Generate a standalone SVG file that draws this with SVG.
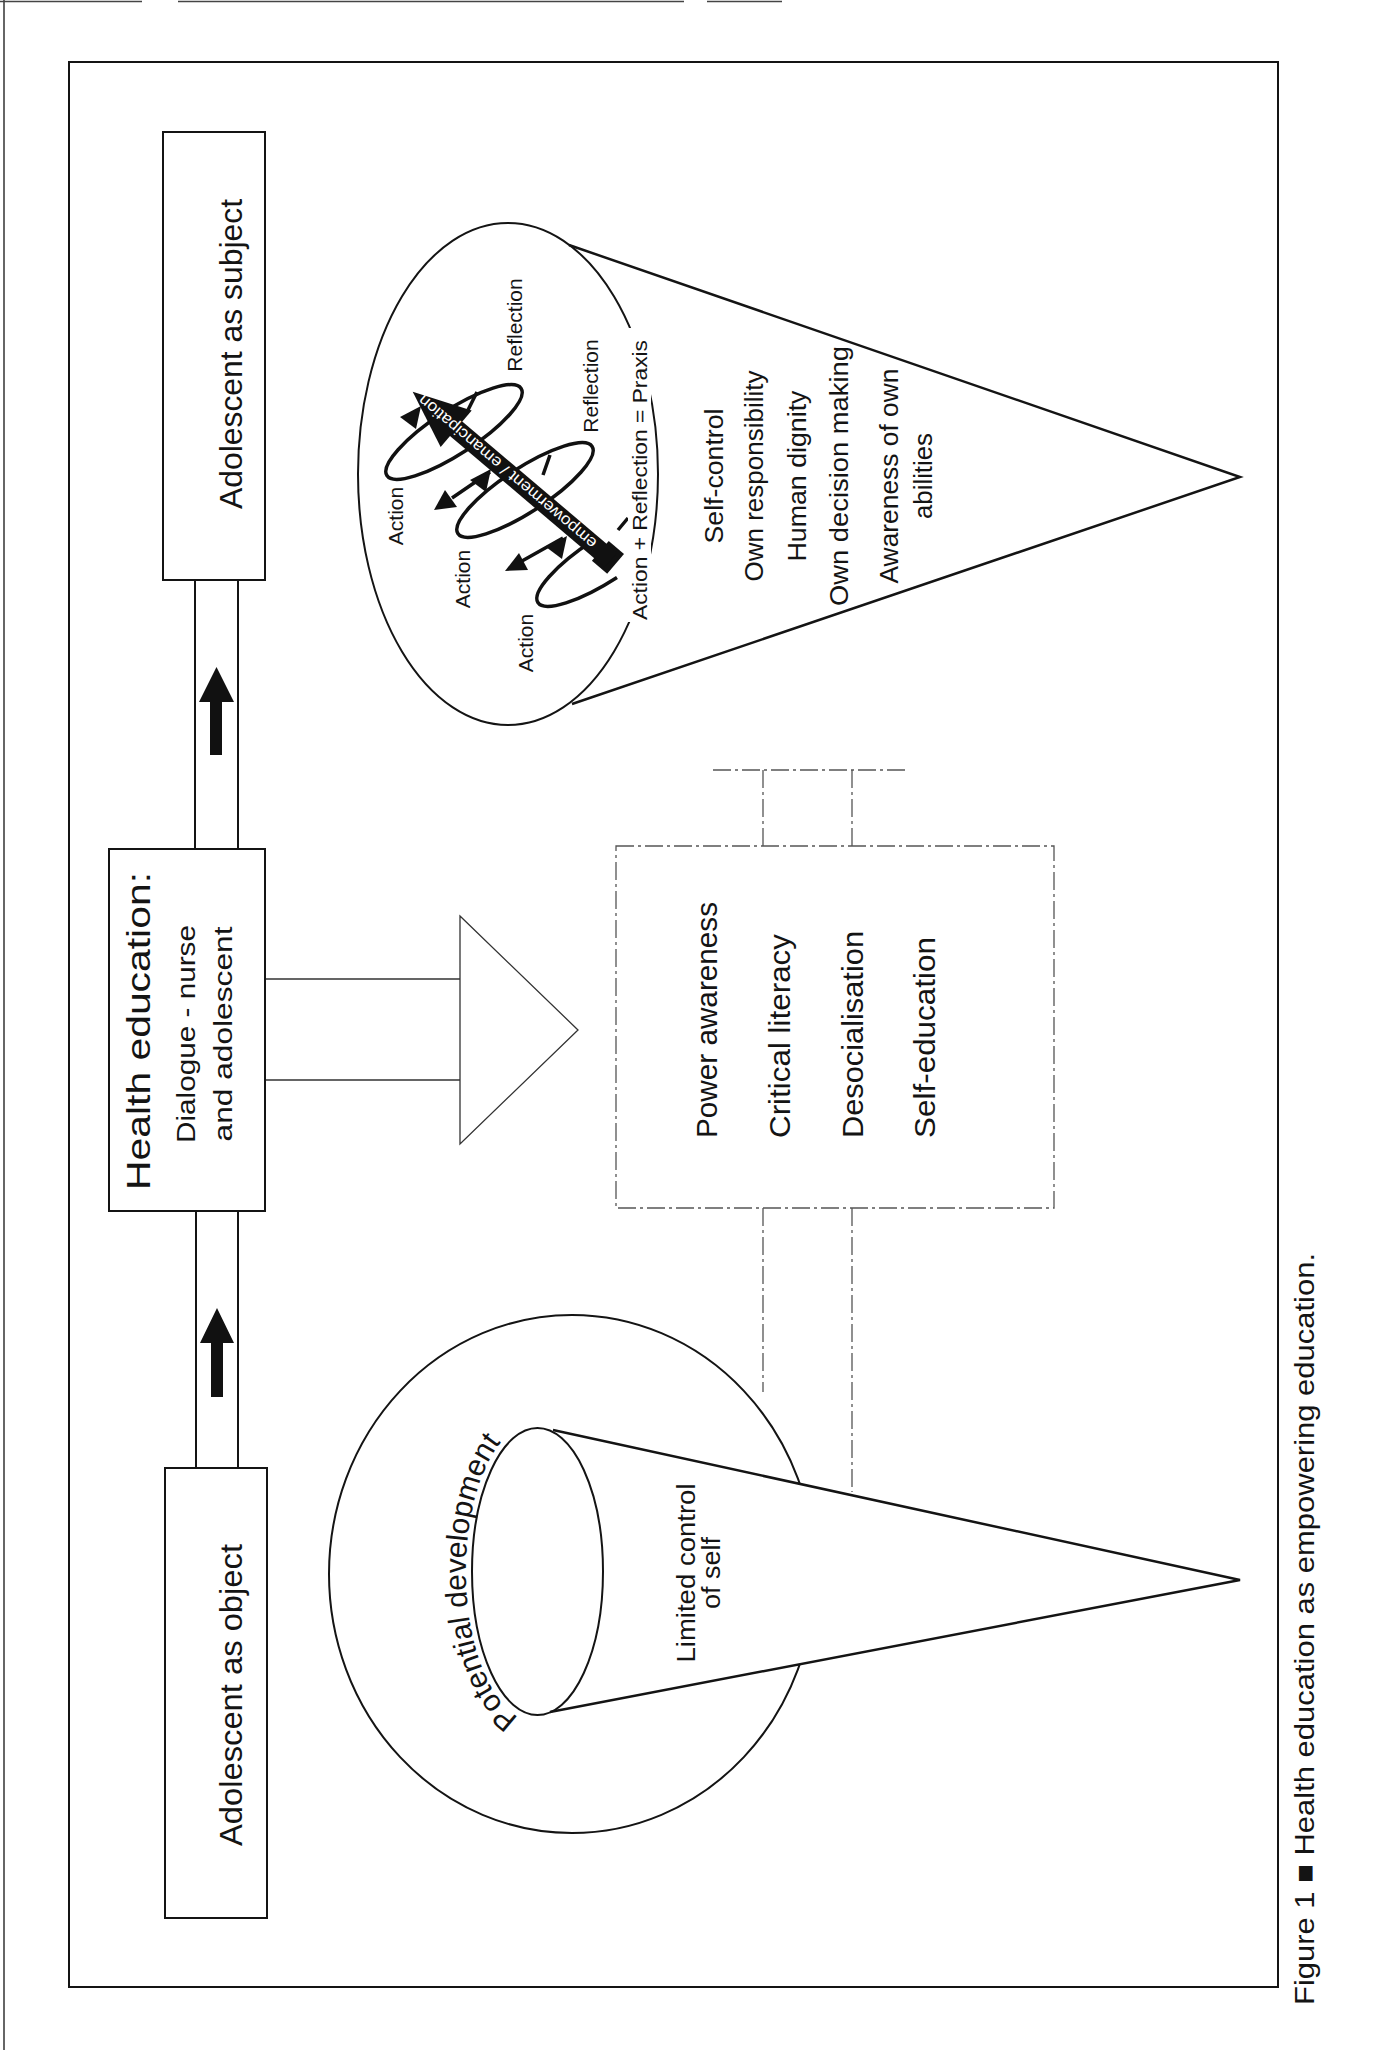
<svg xmlns="http://www.w3.org/2000/svg" width="1394" height="2050" viewBox="0 0 1394 2050">
<style>
.t{font-family:"Liberation Sans",Arial,sans-serif;fill:#141414}
.box{fill:#fff;stroke:#141414;stroke-width:2}
.ln{fill:none;stroke:#141414;stroke-width:2}
.cone{fill:none;stroke:#141414;stroke-width:2.5}
.thin{fill:none;stroke:#333;stroke-width:1.3}
.dash{fill:none;stroke:#555;stroke-width:1.3;stroke-dasharray:18 4 3 4}
.blk{fill:#111;stroke:none}
.loop{fill:none;stroke:#111;stroke-width:3.5}
</style>
<rect width="1394" height="2050" fill="#fff"/>
<g id="page">
<line x1="4" y1="0" x2="4" y2="2050" stroke="#333" stroke-width="1.5"/>
<path d="M0 1.5H142M178 1.5H684M707 1.5H782" stroke="#444" stroke-width="1.5"/>
<rect x="69" y="62" width="1209" height="1925" fill="none" stroke="#141414" stroke-width="2"/>
</g>
<g id="connectors">
<path class="ln" d="M195 580V849M238 580V849M196 1211V1468M238 1211V1468"/>
<path class="blk" d="M216.5 667L234 702H222V755H210V702H199Z"/>
<path class="blk" d="M217 1308L234 1343H223V1397H211V1343H200Z"/>
<path class="thin" d="M265 979H460M265 1080H460"/>
<path class="thin" d="M460 916L578 1030L460 1144Z"/>
<path class="dash" d="M713 770H907M763 770V846M852 770V846M763 1208V1392M852 1208V1492"/>
</g>
<g id="subject-box">
<rect class="box" x="163" y="132" width="102" height="448"/>
<text class="t" transform="translate(242 354) rotate(-90)" text-anchor="middle" font-size="31" textLength="310" lengthAdjust="spacingAndGlyphs">Adolescent as subject</text>
</g>
<g id="health-education-box">
<rect class="box" x="109" y="849" width="156" height="362"/>
<text class="t" transform="translate(150 1031) rotate(-90)" text-anchor="middle" font-size="34" textLength="318" lengthAdjust="spacingAndGlyphs">Health education:</text>
<text class="t" transform="translate(195 1034) rotate(-90)" text-anchor="middle" font-size="26" textLength="218" lengthAdjust="spacingAndGlyphs">Dialogue - nurse</text>
<text class="t" transform="translate(232 1034) rotate(-90)" text-anchor="middle" font-size="26" textLength="215" lengthAdjust="spacingAndGlyphs">and adolescent</text>
</g>
<g id="object-box">
<rect class="box" x="165" y="1468" width="102" height="450"/>
<text class="t" transform="translate(242 1695) rotate(-90)" text-anchor="middle" font-size="31" textLength="302" lengthAdjust="spacingAndGlyphs">Adolescent as object</text>
</g>
<g id="strategies-box">
<rect class="dash" x="616" y="846" width="438" height="362"/>
<text class="t" transform="translate(717 1138) rotate(-90)" font-size="29" textLength="236" lengthAdjust="spacingAndGlyphs">Power awareness</text>
<text class="t" transform="translate(790 1138) rotate(-90)" font-size="29" textLength="204" lengthAdjust="spacingAndGlyphs">Critical literacy</text>
<text class="t" transform="translate(863 1138) rotate(-90)" font-size="29" textLength="207" lengthAdjust="spacingAndGlyphs">Desocialisation</text>
<text class="t" transform="translate(935 1138) rotate(-90)" font-size="29" textLength="201" lengthAdjust="spacingAndGlyphs">Self-education</text>
</g>
<g id="object-cone">
<ellipse class="ln" cx="572" cy="1574" rx="243" ry="259"/>
<path d="M553 1430L1240 1580L550 1712A65.5 143.5 0 0 0 553 1430Z" fill="#fff"/>
<path class="cone" d="M553 1430L1240 1580L550 1712"/>
<ellipse class="ln" cx="537.5" cy="1571.5" rx="65.5" ry="143.5"/>
<path id="pd" d="M519 1717A71 150 0 0 1 533 1422" fill="none"/>
<text class="t" font-size="30"><textPath href="#pd">Potential development</textPath></text>
<text class="t" transform="translate(695 1573) rotate(-90)" text-anchor="middle" font-size="25" textLength="179" lengthAdjust="spacingAndGlyphs">Limited control</text>
<text class="t" transform="translate(720 1573) rotate(-90)" text-anchor="middle" font-size="25" textLength="72" lengthAdjust="spacingAndGlyphs">of self</text>
</g>
<g id="subject-cone">
<ellipse class="ln" cx="508" cy="474" rx="150" ry="251"/>
<path class="cone" d="M569 245L1240 477L572 704"/>
<g id="spiral">
<ellipse class="loop" cx="454" cy="432" rx="80" ry="22" transform="rotate(-33 454 432)"/>
<ellipse class="loop" cx="525" cy="490" rx="80" ry="22" transform="rotate(-33 525 490)"/>
<path class="loop" d="M0 -22A80 22 0 0 0 0 22" transform="translate(605 559) rotate(-33)"/>
<path class="loop" stroke-width="3" d="M468 410L477 392M543 475L550 455M618 530L628 518"/>
<path class="blk" d="M421 406L416 429L400 417Z"/>
<path class="blk" d="M491 469L486 492L470 480Z"/>
<path class="blk" d="M567 536L562 559L546 547Z"/>
<path class="loop" d="M490 472L452 498M563 538L522 561"/>
<path class="blk" d="M434 510L457 507L445 490Z"/>
<path class="blk" d="M505 571L528 570L519 553Z"/>
<g transform="translate(611 560) rotate(-139.7)">
<rect class="blk" x="-6" y="-13" width="20" height="26"/>
<rect class="blk" x="0" y="-9.5" width="212" height="19"/>
<path class="blk" d="M203 -24L260 0L203 24Z"/>
<text x="22" y="5.5" font-family="Liberation Sans, Arial, sans-serif" font-size="16" fill="#fff" textLength="228" lengthAdjust="spacingAndGlyphs">empowerment / emancipation</text>
</g>
</g>
<rect x="628" y="328" width="23" height="294" fill="#fff"/>
<text class="t" transform="translate(647 480) rotate(-90)" text-anchor="middle" font-size="21" textLength="280" lengthAdjust="spacingAndGlyphs">Action + Reflection = Praxis</text>
<text class="t" transform="translate(403 516) rotate(-90)" text-anchor="middle" font-size="21">Action</text>
<text class="t" transform="translate(470 579) rotate(-90)" text-anchor="middle" font-size="21">Action</text>
<text class="t" transform="translate(533 643) rotate(-90)" text-anchor="middle" font-size="21">Action</text>
<text class="t" transform="translate(522 325) rotate(-90)" text-anchor="middle" font-size="21">Reflection</text>
<text class="t" transform="translate(598 386) rotate(-90)" text-anchor="middle" font-size="21">Reflection</text>
<text class="t" transform="translate(723 476) rotate(-90)" text-anchor="middle" font-size="25" textLength="135" lengthAdjust="spacingAndGlyphs">Self-control</text>
<text class="t" transform="translate(763 476) rotate(-90)" text-anchor="middle" font-size="25" textLength="211" lengthAdjust="spacingAndGlyphs">Own responsibility</text>
<text class="t" transform="translate(806 476) rotate(-90)" text-anchor="middle" font-size="25" textLength="171" lengthAdjust="spacingAndGlyphs">Human dignity</text>
<text class="t" transform="translate(848 476) rotate(-90)" text-anchor="middle" font-size="25" textLength="260" lengthAdjust="spacingAndGlyphs">Own decision making</text>
<text class="t" transform="translate(898 476) rotate(-90)" text-anchor="middle" font-size="25" textLength="215" lengthAdjust="spacingAndGlyphs">Awareness of own</text>
<text class="t" transform="translate(932 476) rotate(-90)" text-anchor="middle" font-size="25" textLength="86" lengthAdjust="spacingAndGlyphs">abilities</text>
</g>
<g id="caption">
<text class="t" transform="translate(1314 2005) rotate(-90)" font-size="28" textLength="752" lengthAdjust="spacingAndGlyphs">Figure 1 ■ Health education as empowering education.</text>
</g>
</svg>
